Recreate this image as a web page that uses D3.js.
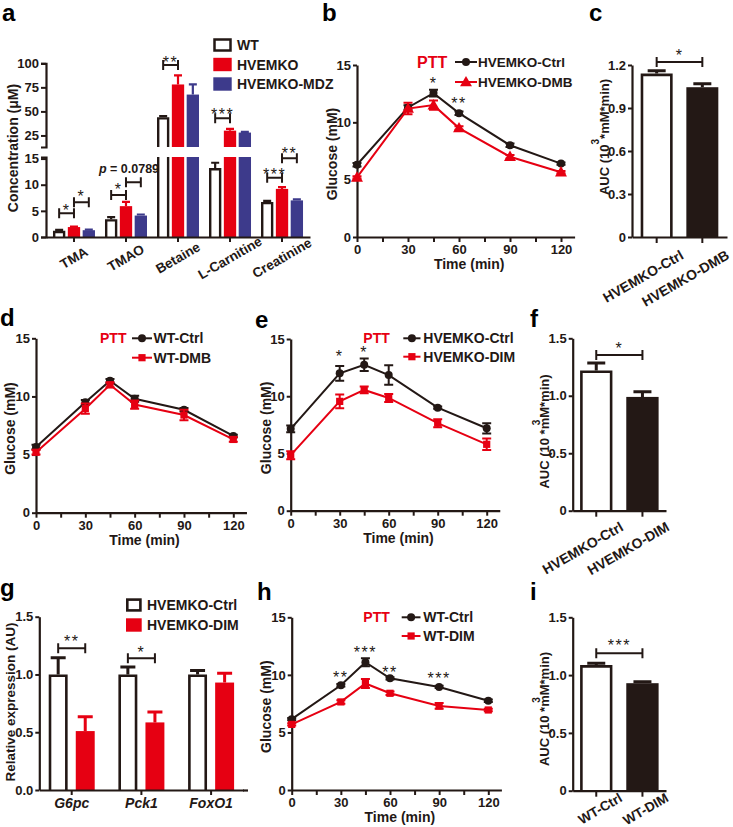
<!DOCTYPE html>
<html><head><meta charset="utf-8">
<script src="https://cdn.jsdelivr.net/npm/d3@7"></script>
<style>body{margin:0;background:#fff}svg{display:block;font-family:'Liberation Sans',Arial,sans-serif}</style>
</head><body><svg id="fig" width="733" height="827"></svg>
<script>
// ---------- DATA ----------
const timePoints = [0, 30, 45, 60, 90, 120];
const timeTicks = [0, 30, 60, 90, 120];
const timeMinorTicks = [15, 45, 75, 105];
const glucoseTicks = [0, 5, 10, 15];

// panel a
const aCategories = ["TMA", "TMAO", "Betaine", "L-Carnitine", "Creatinine"];
const aGroups = ["WT", "HVEMKO", "HVEMKO-MDZ"];
const aWT = [1.2, 3.4, 44, 13.2, 6.7];
const aWTErr = [0.15, 0.4, 1.0, 1.0, 0.2];
const aKO = [1.9, 5.9, 78, 30, 9.2];
const aKOErr = [0.1, 0.8, 9.5, 1.8, 0.35];
const aMDZ = [1.3, 4.1, 67.5, 28, 7.0];
const aMDZErr = [0.1, 0.2, 10.5, 0.8, 0.2];
const aLowTicks = [0, 5, 10, 15];
const aHighTicks = [25, 50, 75, 100];

// panel b
const bCtrl = [6.3, 11.3, 12.55, 10.8, 8.0, 6.4];
const bCtrlErr = [0.15, 0.2, 0.3, 0.15, 0.15, 0.1];
const bDMB = [5.2, 11.2, 11.5, 9.5, 7.0, 5.65];
const bDMBErr = [0.1, 0.5, 0.4, 0.15, 0.15, 0.1];

// panel c
const cGroups = ["HVEMKO-Ctrl", "HVEMKO-DMB"];
const cAUC = [1.14, 1.045];
const cAUCErr = [0.02, 0.025];
const cTicks = [0, 0.3, 0.6, 0.9, 1.2];

// panel d
const dCtrl = [5.65, 9.5, 11.35, 9.8, 8.85, 6.6];
const dCtrlErr = [0.2, 0.2, 0.15, 0.25, 0.15, 0.1];
const dDMB = [5.2, 8.95, 11.0, 9.3, 8.4, 6.3];
const dDMBErr = [0.2, 0.45, 0.2, 0.35, 0.45, 0.2];

// panel e
const eCtrl = [7.15, 12.0, 12.75, 11.85, 9.0, 7.2];
const eCtrlErr = [0.3, 0.65, 0.55, 0.85, 0.1, 0.45];
const eDIM = [4.85, 9.55, 10.55, 9.85, 7.65, 5.8];
const eDIMErr = [0.35, 0.6, 0.3, 0.35, 0.35, 0.5];

// panel f
const fGroups = ["HVEMKO-Ctrl", "HVEMKO-DIM"];
const fAUC = [1.22, 0.99];
const fAUCErr = [0.065, 0.045];
const aucTicks = [0, 0.5, 1.0, 1.5];

// panel g
const gGenes = ["G6pc", "Pck1", "FoxO1"];
const gGroups = ["HVEMKO-Ctrl", "HVEMKO-DIM"];
const gCtrl = [1.0, 1.0, 1.0];
const gCtrlErr = [0.145, 0.065, 0.035];
const gDIM = [0.51, 0.585, 0.93];
const gDIMErr = [0.125, 0.09, 0.08];
const gTicks = [0, 0.5, 1.0, 1.5];

// panel h
const hCtrl = [6.15, 9.1, 11.1, 9.7, 8.95, 7.75];
const hCtrlErr = [0.1, 0.1, 0.35, 0.1, 0.1, 0.1];
const hDIM = [5.7, 7.65, 9.25, 8.4, 7.3, 6.95];
const hDIMErr = [0.1, 0.15, 0.4, 0.15, 0.25, 0.1];

// panel i
const iGroups = ["WT-Ctrl", "WT-DIM"];
const iAUC = [1.087, 0.93];
const iAUCErr = [0.015, 0.013];

// ---------- DRAWING ----------
const svg = d3.select("#fig");
const INK = "#231815", RED = "#e60012", BLUE = "#3d3a8b";

function styleAxis(sel, size = 13, italic = false) {
  sel.selectAll("path.domain").attr("stroke", INK).attr("stroke-width", 2.2);
  sel.selectAll(".tick line").attr("stroke", INK).attr("stroke-width", 2);
  sel.selectAll(".tick text").attr("fill", INK).attr("font-size", size)
    .attr("font-weight", "bold").attr("font-family", "'Liberation Sans', Arial, sans-serif")
    .attr("font-style", italic ? "italic" : "normal");
}
function panelLetter(x, y, t) {
  svg.append("text").attr("x", x).attr("y", y).attr("font-size", 24).attr("font-weight", "bold").attr("fill", "#000").text(t);
}
function vlabel(g, x, y, t, size = 14) {
  return g.append("text").attr("transform", `translate(${x},${y}) rotate(-90)`)
    .attr("text-anchor", "middle").attr("dominant-baseline", "central")
    .attr("font-size", size).attr("font-weight", "bold").attr("fill", INK).text(t);
}
function bracket(g, x1, x2, y, h = 5) {
  g.append("path").attr("d", `M${x1},${y - h}V${y + h}M${x1},${y}H${x2}M${x2},${y - h}V${y + h}`)
    .attr("stroke", INK).attr("stroke-width", 2).attr("fill", "none");
}
function stars(g, x, yc, s, size = 16) {
  g.append("text").attr("x", x).attr("y", yc + size * 0.58).attr("text-anchor", "middle")
    .attr("font-size", size).attr("fill", INK).attr("letter-spacing", 1.5).text(s);
}
function errBar(g, x, y1, y2, cap, color, sw = 2) {
  g.append("path").attr("d", `M${x},${y1}V${y2}M${x - cap / 2},${y2}H${x + cap / 2}`)
    .attr("stroke", color).attr("stroke-width", sw).attr("fill", "none");
}

// ===== Panel a =====
(function () {
  const g = svg.append("g");
  const x = d3.scaleBand().domain(aCategories).range([46, 310]).paddingInner(0.15).paddingOuter(0.113);
  const sub = d3.scaleBand().domain(aGroups).range([-21, 21]).paddingInner(0.17);
  const yLow = d3.scaleLinear().domain([0, 15.3]).range([237, 157]);
  const yHigh = d3.scaleLinear().domain([13, 100]).range([147, 63.3]);
  const LOWMAX = 15.3, HIGHMIN = 13;
  const series = [
    { name: aGroups[0], vals: aWT, errs: aWTErr, color: "#fff", outline: true },
    { name: aGroups[1], vals: aKO, errs: aKOErr, color: RED },
    { name: aGroups[2], vals: aMDZ, errs: aMDZErr, color: BLUE }
  ];
  const w = sub.bandwidth(), sw = 2.4;
  series.forEach(s => {
    aCategories.forEach((c, i) => {
      const v = s.vals[i], e = s.errs[i];
      const xc = x(c) + x.bandwidth() / 2 + sub(s.name) + w / 2;
      const ys = v > LOWMAX ? yHigh : yLow;
      errBar(g, xc, ys(v), ys(v + e), 8, s.outline ? INK : s.color, 2.2);
      if (s.outline) {
        const L = xc - w / 2 + sw / 2, R = xc + w / 2 - sw / 2;
        if (v <= LOWMAX) {
          g.append("path").attr("d", `M${L},${yLow(0)}V${yLow(v) + sw / 2}H${R}V${yLow(0)}`)
            .attr("fill", "#fff").attr("stroke", INK).attr("stroke-width", sw);
        } else {
          g.append("path").attr("d", `M${L},${yLow(0)}V${yLow(LOWMAX)}M${R},${yLow(LOWMAX)}V${yLow(0)}`)
            .attr("fill", "none").attr("stroke", INK).attr("stroke-width", sw);
          g.append("path").attr("d", `M${L},${yHigh(HIGHMIN)}V${yHigh(v) + sw / 2}H${R}V${yHigh(HIGHMIN)}`)
            .attr("fill", "#fff").attr("stroke", INK).attr("stroke-width", sw);
        }
      } else {
        const top = Math.min(v, LOWMAX);
        g.append("rect").attr("x", xc - w / 2).attr("width", w).attr("y", yLow(top)).attr("height", yLow(0) - yLow(top)).attr("fill", s.color);
        if (v > LOWMAX) {
          g.append("rect").attr("x", xc - w / 2).attr("width", w).attr("y", yHigh(v)).attr("height", yHigh(HIGHMIN) - yHigh(v)).attr("fill", s.color);
        }
      }
    });
  });
  g.append("g").attr("transform", "translate(46,0)")
    .call(d3.axisLeft(yLow).tickValues(aLowTicks).tickSize(5).tickSizeOuter(5).tickPadding(2)).call(styleAxis);
  g.append("g").attr("transform", "translate(46,0)")
    .call(d3.axisLeft(yHigh).tickValues(aHighTicks).tickSize(5).tickSizeOuter(5).tickPadding(2)).call(styleAxis);
  const xa = g.append("g").attr("transform", "translate(0,237)")
    .call(d3.axisBottom(x).tickSize(5).tickSizeOuter(0)).call(styleAxis, 13.5);
  xa.selectAll(".tick text").attr("y", 0).attr("dy", null).attr("text-anchor", "middle")
    .attr("dominant-baseline", "central").attr("transform", "translate(0,21) rotate(-30)");
  vlabel(g, 13, 148, "Concentration (μM)");
  // legend
  aGroups.forEach((name, i) => {
    const yc = 45 + i * 19.5;
    const s = series[i];
    if (s.outline) {
      g.append("rect").attr("x", 214.5).attr("y", yc - 5.5).attr("width", 16).attr("height", 11)
        .attr("fill", "#fff").attr("stroke", INK).attr("stroke-width", 2.5);
    } else {
      g.append("rect").attr("x", 213.3).attr("y", yc - 6.7).attr("width", 18.4).attr("height", 13.4).attr("fill", s.color);
    }
    g.append("text").attr("x", 237).attr("y", yc).attr("dominant-baseline", "central")
      .attr("font-size", 14).attr("font-weight", "bold").attr("fill", INK).text(name);
  });
  // significance
  const cx = (c, k) => x(c) + x.bandwidth() / 2 + sub(aGroups[k]) + w / 2;
  bracket(g, cx("TMA", 0), cx("TMA", 1), 213.3); stars(g, (cx("TMA", 0) + cx("TMA", 1)) / 2, 207, "*");
  bracket(g, cx("TMA", 1), cx("TMA", 2), 202.3); stars(g, (cx("TMA", 1) + cx("TMA", 2)) / 2, 193, "*");
  bracket(g, cx("TMAO", 0), cx("TMAO", 1), 195); stars(g, (cx("TMAO", 0) + cx("TMAO", 1)) / 2, 186, "*");
  bracket(g, cx("TMAO", 1), cx("TMAO", 2), 182.3);
  const pt = g.append("text").attr("x", 129).attr("y", 168.5).attr("text-anchor", "middle").attr("dominant-baseline", "central")
    .attr("font-size", 12.5).attr("font-weight", "bold").attr("fill", INK);
  pt.append("tspan").attr("font-style", "italic").text("p");
  pt.append("tspan").text(" = 0.0789");
  bracket(g, cx("Betaine", 0), cx("Betaine", 1), 65); stars(g, (cx("Betaine", 0) + cx("Betaine", 1)) / 2, 59, "**");
  bracket(g, cx("L-Carnitine", 0), cx("L-Carnitine", 1), 118.3); stars(g, (cx("L-Carnitine", 0) + cx("L-Carnitine", 1)) / 2, 111, "***");
  bracket(g, cx("Creatinine", 0), cx("Creatinine", 1), 177.7); stars(g, (cx("Creatinine", 0) + cx("Creatinine", 1)) / 2, 171, "***");
  bracket(g, cx("Creatinine", 1), cx("Creatinine", 2), 158.3); stars(g, (cx("Creatinine", 1) + cx("Creatinine", 2)) / 2, 150, "**");
})();
panelLetter(2, 21, "a");

// ===== glucose line panels =====
function glucosePanel(o) {
  const g = svg.append("g");
  const x = d3.scaleLinear().domain([0, 128]).range([o.x0, o.x0 + (o.x120 - o.x0) * 128 / 120]);
  const y = d3.scaleLinear().domain([0, 15]).range([o.y0, o.y15]);
  g.append("g").attr("transform", `translate(0,${o.y0})`)
    .call(d3.axisBottom(x).tickValues([...timeTicks, ...timeMinorTicks]).tickSize(5).tickSizeOuter(0)
      .tickFormat(d => timeTicks.includes(d) ? d : "")).call(styleAxis);
  g.append("g").attr("transform", `translate(${o.x0},0)`)
    .call(d3.axisLeft(y).tickValues(glucoseTicks).tickSize(4).tickPadding(2).tickSizeOuter(0)).call(styleAxis);
  g.append("text").attr("x", x(66)).attr("y", o.y0 + 27).attr("text-anchor", "middle").attr("dominant-baseline", "central")
    .attr("font-size", 14).attr("font-weight", "bold").attr("fill", INK).text("Time (min)");
  vlabel(g, o.ylabX, (o.y0 + o.y15) / 2 + 3, "Glucose (mM)");
  const line = d3.line().x((d, i) => x(timePoints[i])).y(d => y(d));
  const marker = (sel, type, color, cxp, cyp) => {
    if (type === "circle") sel.append("circle").attr("cx", cxp).attr("cy", cyp).attr("r", 4).attr("fill", color);
    else {
      const sym = type === "triangle" ? d3.symbol().type(d3.symbolTriangle).size(62) : d3.symbol().type(d3.symbolSquare).size(52);
      sel.append("path").attr("d", sym()).attr("transform", `translate(${cxp},${cyp + (type === "triangle" ? 0.8 : 0)})`).attr("fill", color);
    }
  };
  o.series.forEach(s => {
    g.append("path").attr("d", line(s.vals)).attr("fill", "none").attr("stroke", s.color).attr("stroke-width", 2);
    s.vals.forEach((v, i) => {
      const xc = x(timePoints[i]);
      errBar(g, xc, y(v), y(v + s.errs[i]), 9, s.color, 2);
      errBar(g, xc, y(v), y(v - s.errs[i]), 9, s.color, 2);
      marker(g, s.marker, s.color, xc, y(v));
    });
  });
  // legend
  const L = o.legend;
  g.append("text").attr("x", L.ptt).attr("y", L.rows[0]).attr("dominant-baseline", "central")
    .attr("font-size", L.pttSize || 14).attr("font-weight", "bold").attr("fill", RED).text("PTT");
  o.series.forEach((s, k) => {
    const yr = L.rows[k];
    g.append("line").attr("x1", L.lx1).attr("x2", L.lx2).attr("y1", yr).attr("y2", yr).attr("stroke", s.color).attr("stroke-width", 2);
    marker(g, s.marker, s.color, (L.lx1 + L.lx2) / 2, yr);
    g.append("text").attr("x", L.tx).attr("y", yr).attr("dominant-baseline", "central")
      .attr("font-size", L.size || 14).attr("font-weight", "bold").attr("fill", INK).text(s.name);
  });
  (o.stars || []).forEach(st => stars(g, x(st.t), st.y, st.s));
  return { g, x, y };
}

glucosePanel({
  x0: 357, x120: 561, y0: 237, y15: 65, ylabX: 331.5,
  series: [
    { name: "HVEMKO-Ctrl", vals: bCtrl, errs: bCtrlErr, color: INK, marker: "circle" },
    { name: "HVEMKO-DMB", vals: bDMB, errs: bDMBErr, color: RED, marker: "triangle" }
  ],
  legend: { ptt: 417, pttSize: 16, rows: [62, 82], lx1: 455, lx2: 477, tx: 478, size: 13.5 },
  stars: [{ t: 45, y: 80, s: "*" }, { t: 60, y: 100, s: "**" }]
});
panelLetter(322, 21, "b");

glucosePanel({
  x0: 36, x120: 233.3, y0: 512.7, y15: 338.3, ylabX: 10,
  series: [
    { name: "WT-Ctrl", vals: dCtrl, errs: dCtrlErr, color: INK, marker: "circle" },
    { name: "WT-DMB", vals: dDMB, errs: dDMBErr, color: RED, marker: "square" }
  ],
  legend: { ptt: 100, rows: [338.3, 357.7], lx1: 132, lx2: 152, tx: 153.5 }
});
panelLetter(0, 326, "d");

glucosePanel({
  x0: 290.7, x120: 486.7, y0: 510.7, y15: 339, ylabX: 265.5,
  series: [
    { name: "HVEMKO-Ctrl", vals: eCtrl, errs: eCtrlErr, color: INK, marker: "circle" },
    { name: "HVEMKO-DIM", vals: eDIM, errs: eDIMErr, color: RED, marker: "square" }
  ],
  legend: { ptt: 363.3, rows: [338.3, 356.7], lx1: 403.3, lx2: 420.5, tx: 423.3 },
  stars: [{ t: 30, y: 353, s: "*" }, { t: 45, y: 349, s: "*" }]
});
panelLetter(255, 328, "e");

glucosePanel({
  x0: 291.7, x120: 488.3, y0: 790, y15: 617.3, ylabX: 265.5,
  series: [
    { name: "WT-Ctrl", vals: hCtrl, errs: hCtrlErr, color: INK, marker: "circle" },
    { name: "WT-DIM", vals: hDIM, errs: hDIMErr, color: RED, marker: "square" }
  ],
  legend: { ptt: 363.3, rows: [617.3, 636], lx1: 401.7, lx2: 420.5, tx: 423.3 },
  stars: [{ t: 30, y: 674, s: "**" }, { t: 45, y: 648.3, s: "***" }, { t: 60, y: 668.3, s: "**" }, { t: 90, y: 675, s: "***" }]
});
panelLetter(257, 600, "h");

// ===== AUC bar panels =====
function aucPanel(o) {
  const g = svg.append("g");
  const x = d3.scaleBand().domain(o.cats).range([o.xa, o.xb]).paddingInner(0.3).paddingOuter(o.po);
  const y = d3.scaleLinear().domain([0, o.ymax]).range([o.y0, o.ytop]);
  const w = x.bandwidth(), sw = 2.6;
  o.cats.forEach((c, i) => {
    const v = o.vals[i], e = o.errs[i], xc = x(c) + w / 2;
    errBar(g, xc, y(v), y(v + e), 18, INK, 3);
    if (i === 0) {
      const L = x(c) + sw / 2, R = x(c) + w - sw / 2;
      g.append("path").attr("d", `M${L},${y(0)}V${y(v) + sw / 2}H${R}V${y(0)}`)
        .attr("fill", "#fff").attr("stroke", INK).attr("stroke-width", sw);
    } else {
      g.append("rect").attr("x", x(c)).attr("width", w).attr("y", y(v)).attr("height", y(0) - y(v)).attr("fill", INK);
    }
  });
  g.append("g").attr("transform", `translate(${o.xa},0)`)
    .call(d3.axisLeft(y).tickValues(o.ticks).tickSize(4).tickPadding(2).tickSizeOuter(0)
      .tickFormat(d => d === 0 ? "0" : d3.format(".1f")(d))).call(styleAxis);
  const xa = g.append("g").attr("transform", `translate(0,${o.y0})`)
    .call(d3.axisBottom(x).tickSize(6).tickSizeOuter(0)).call(styleAxis, o.labSize || 14);
  xa.selectAll(".tick text").attr("y", 0).attr("dy", null).attr("text-anchor", "end")
    .attr("transform", `translate(${o.lab[0]},${o.lab[1]}) rotate(-30)`);
  const c0 = x(o.cats[0]) + w / 2, c1 = x(o.cats[1]) + w / 2;
  bracket(g, c0, c1, o.br.y);
  stars(g, (c0 + c1) / 2, o.br.sy, o.br.s);
  return g;
}

const cg = aucPanel({ cats: cGroups, vals: cAUC, errs: cAUCErr, xa: 632, xb: 727, po: 0.19, y0: 237, ytop: 65, ymax: 1.2,
  ticks: cTicks, lab: [28, 21], br: { y: 62, sy: 51.5, s: "*" } });
(function () {
  const t = cg.append("text").attr("transform", "translate(604,137) rotate(-90)").attr("text-anchor", "middle")
    .attr("dominant-baseline", "central").attr("font-size", 13).attr("font-weight", "bold").attr("fill", INK);
  t.append("tspan").text("AUC (10");
  t.append("tspan").attr("dy", -9).attr("font-size", 10).text("3");
  t.append("tspan").attr("dy", 9).text("*mM*min)");
})();
panelLetter(589, 21, "c");

function aucLabelOdd(g, xc, yc) {
  const t = g.append("text").attr("transform", `translate(${xc},${yc}) rotate(-90)`).attr("text-anchor", "middle")
    .attr("dominant-baseline", "central").attr("font-size", 13).attr("font-weight", "bold").attr("fill", INK)
    .text("AUC (10 *mM*min)");
  const node = t.node();
  const total = node.getComputedTextLength();
  const pre = node.getSubStringLength(0, 9);
  g.append("text").attr("transform", `translate(${xc},${yc}) rotate(-90)`)
    .attr("x", -total / 2 + pre + 4).attr("y", -8).attr("dominant-baseline", "central")
    .attr("font-size", 10).attr("font-weight", "bold").attr("fill", INK).text("3");
}

const fg = aucPanel({ cats: fGroups, vals: fAUC, errs: fAUCErr, xa: 572.7, xb: 666, po: 0.16, y0: 510.7, ytop: 338.3, ymax: 1.5,
  ticks: aucTicks, lab: [28, 19], br: { y: 355, sy: 345, s: "*" } });
aucLabelOdd(fg, 544, 431.5);
panelLetter(530, 327, "f");

const ig = aucPanel({ cats: iGroups, vals: iAUC, errs: iAUCErr, xa: 572.7, xb: 666, po: 0.16, y0: 790.7, ytop: 617.3, ymax: 1.5,
  ticks: aucTicks, lab: [27, 10], labSize: 13.5, br: { y: 653.3, sy: 641.7, s: "***" } });
aucLabelOdd(ig, 544, 709);
panelLetter(530, 600, "i");

// ===== Panel g =====
(function () {
  const g = svg.append("g");
  const x = d3.scaleBand().domain(gGenes).range([39.3, 243.5]).paddingInner(0.1).paddingOuter(0.015);
  const sub = d3.scaleBand().domain(gGroups).range([-23, 23]).paddingInner(0.3);
  const y = d3.scaleLinear().domain([0, 1.5]).range([790, 616.7]);
  const w = sub.bandwidth(), sw = 2.6;
  const series = [
    { name: gGroups[0], vals: gCtrl, errs: gCtrlErr, outline: true, color: INK },
    { name: gGroups[1], vals: gDIM, errs: gDIMErr, color: RED }
  ];
  const cx = (gene, k) => x(gene) + x.bandwidth() / 2 + sub(gGroups[k]) + w / 2;
  series.forEach((s, k) => {
    gGenes.forEach((gene, i) => {
      const v = s.vals[i], e = s.errs[i], xc = cx(gene, k);
      errBar(g, xc, y(v), y(v + e), 15, s.color, 3);
      if (s.outline) {
        const L = xc - w / 2 + sw / 2, R = xc + w / 2 - sw / 2;
        g.append("path").attr("d", `M${L},${y(0)}V${y(v) + sw / 2}H${R}V${y(0)}`)
          .attr("fill", "#fff").attr("stroke", INK).attr("stroke-width", sw);
      } else {
        g.append("rect").attr("x", xc - w / 2).attr("width", w).attr("y", y(v)).attr("height", y(0) - y(v)).attr("fill", s.color);
      }
    });
  });
  g.append("g").attr("transform", "translate(39.3,0)")
    .call(d3.axisLeft(y).tickValues(gTicks).tickSize(4).tickPadding(2).tickSizeOuter(0).tickFormat(d3.format(".1f"))).call(styleAxis);
  g.append("g").attr("transform", "translate(0,790)")
    .call(d3.axisBottom(x).tickSize(5).tickSizeOuter(0)).call(styleAxis, 14, true);
  g.append("line").attr("x1", 243).attr("x2", 248).attr("y1", 790.5).attr("y2", 790.5).attr("stroke", INK).attr("stroke-width", 2.2);
  vlabel(g, 10, 702, "Relative expression (AU)", 13.5);
  // legend
  g.append("rect").attr("x", 127.3).attr("y", 599.6).attr("width", 13.1).attr("height", 10.8)
    .attr("fill", "#fff").attr("stroke", INK).attr("stroke-width", 2.6);
  g.append("rect").attr("x", 126).attr("y", 618.3).attr("width", 15.7).attr("height", 13.4).attr("fill", RED);
  gGroups.forEach((n, k) => g.append("text").attr("x", 147).attr("y", 605 + k * 20).attr("dominant-baseline", "central")
    .attr("font-size", 14).attr("font-weight", "bold").attr("fill", INK).text(n));
  bracket(g, cx("G6pc", 0), cx("G6pc", 1), 648.3); stars(g, (cx("G6pc", 0) + cx("G6pc", 1)) / 2, 637.5, "**");
  bracket(g, cx("Pck1", 0), cx("Pck1", 1), 658.3); stars(g, (cx("Pck1", 0) + cx("Pck1", 1)) / 2, 649, "*");
})();
panelLetter(0, 596, "g");
</script></body></html>
